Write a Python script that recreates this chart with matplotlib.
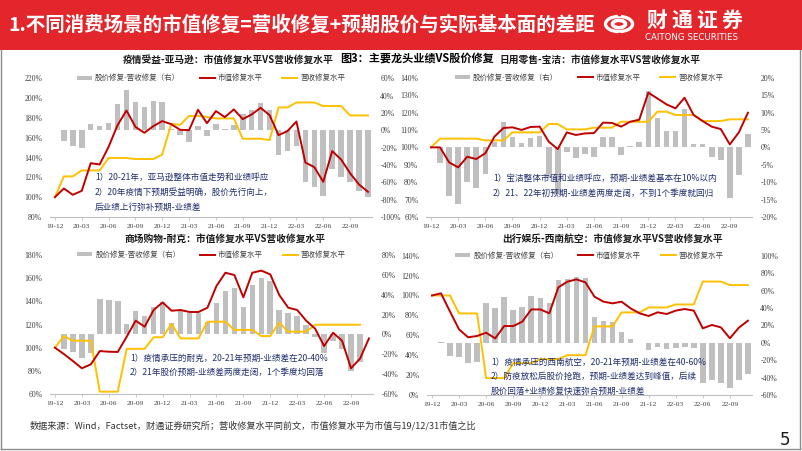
import numpy as np
import matplotlib
matplotlib.use("Agg")
import matplotlib.pyplot as plt
from matplotlib.patches import Patch, Rectangle, Circle, Arc
from matplotlib.lines import Line2D

plt.rcParams['font.family'] = ['Noto Sans CJK SC', 'DejaVu Sans']

W, H = 802, 451
nan = np.nan

# ---------------- data ----------------
x_labels = ["19-12", "20-03", "20-06", "20-09", "20-12", "21-03", "21-06",
            "21-09", "21-12", "22-03", "22-06", "22-09"]

amazon_mv = [100, 108.8, 102.4, 106.4, 134.3, 133, 150.8, 172.7, 187.5, 171, 165, 171.7,
             176.8, 173.7, 168, 167.7, 188.2, 174.7, 186.9, 180.8, 188.6, 178.8, 183.5, 190.2,
             182.8, 162.6, 166.7, 176.4, 135, 130.3, 115.5, 146.5, 138, 124.2, 112.8, 105.4]
amazon_rev = [100, 121, 121, 127, 127, 127, 139.6, 139.6, 139.6, 138.5, 138.5, 138.5,
              143, 174, 173, 182, 182, 181, 179.5, 179.5, 179.5, 159, 159, 159,
              157.6, 190.6, 190.6, 195.6, 195.6, 195.6, 192, 192, 192, 182.5, 182.5, 182.5]
amazon_gap = [nan, -11.9, -18.4, -20.7, 7.3, 5.4, 8.4, 30.2, 46.3, 32.2, 26.4, 34.1,
              32.2, 1, -5, -14, 5, -7, 7, 1.5, 6.5, 19, 24, 31,
              23, -28, -24, -18, -60, -65, -76, -45, -54, -60, -70, -77]

pg_mv = [100, 100, 91.4, 88.5, 94.6, 93.3, 96.6, 106.1, 111.1, 111.5, 110, 111.7,
         111.9, 103.3, 99, 108.6, 107.1, 108, 108.2, 114.2, 114, 111.9, 114.7, 115.9,
         131.4, 128.1, 124.7, 122.4, 128.5, 118.6, 115.1, 111.9, 110.5, 101.7, 108.6, 119.9]
pg_rev = [100, 105, 105, 105, 105, 105, 104, 104, 104, 108.6, 108.6, 108.6,
          108.6, 113.4, 113.4, 110.3, 110.3, 110.3, 111.3, 111.3, 111.3, 114.7, 114.7, 114.7,
          114.7, 120.5, 120.5, 118.6, 118.6, 118.6, 115.1, 115.1, 115.1, 116.1, 116.1, 116.1]
pg_gap = [nan, -4.6, -13.9, -16.3, -10, -11.6, -7.6, 1.4, 7.2, 2.9, 1.3, 2.8,
          3.3, -8.9, -13.5, -1.4, -3.2, -2, -2.7, 3.1, 3.1, -2.2, 0.3, 1.6,
          16.2, 8.5, 4.8, 4.8, 11, 0.9, 1.1, -2.8, -3.5, -14.5, -7.8, 3.7]

nike_mv = [100, 94.5, 88.5, 82.2, 85.6, 97.1, 96.5, 96.3, 109.5, 123.3, 118.1, 132.5,
           139.1, 131.9, 132.5, 130.8, 130.8, 134.5, 153.2, 164.7, 162.7, 143.5, 164.7, 166.5,
           163.3, 145.5, 134.5, 132.5, 123.3, 116.4, 101.4, 112.9, 106, 82.2, 90.5, 108]
nike_rev = [100, 110, 106, 106, 106, 62, 62, 62, 99, 99, 99, 109,
            109, 120.4, 108, 108, 108, 122.4, 122.4, 122.4, 115.3, 115.3, 115.3, 110,
            110, 121.6, 113.8, 113.8, 113.8, 119.8, 119.8, 119.8, 119.8, 119.8, 119.8, nan]
nike_gap = [nan, -15.1, -17.4, -24.2, -19.1, 35.2, 34.6, 33.9, 10.4, 23.8, 18.5, 27.9,
            32.2, 11.7, 23.8, 21.8, 21.8, 12.8, 31.2, 43.6, 46.3, 27.9, 49.7, 56.4,
            53.7, 24.5, 21.1, 18.8, 9.4, -3, -19.1, -6.4, -14.4, -36.6, -27.5, nan]

sw_mv = [100, 102.2, 83.8, 66, 58, 59.3, 62.6, 56.9, 69.3, 69.3, 73.7, 86,
         86, 82.1, 108.2, 113.9, 116.2, 113.2, 98.8, 93.8, 92.1, 93.8, 87.1, 82.1,
         79.4, 83.1, 81.4, 84.8, 86.4, 84.8, 67, 70.4, 68, 57, 67.7, 74.7]
sw_rev = [100, 100, 100, 82, 82, 82, 17, 17, 17, 32, 32, 32,
          36, 36, 36, 40, 40, 40, 69, 69, 69, 83, 83, 83,
          88, 88, 88, 91, 91, 91, 114, 114, 114, 110.5, 110.5, 110.5]
sw_gap = [nan, 1, -15.3, -16, -23.7, -22.6, 45.9, 39.4, 52, 37.5, 41.3, 53.6,
          50.9, 45.2, 72, 72.7, 75.8, 73.9, 29.9, 25.3, 24.1, 11.9, 4.2, -0.5,
          -8.4, -5.4, -7.3, -6.5, -4.6, -5.7, -46.7, -42.9, -45.9, -52.4, -42.9, -36]

legend_labels = ["股价修复-营收修复（右）", "市值修复水平", "营收修复水平"]

titles = ["疫情受益-亚马逊：市值修复水平VS营收修复水平",
          "日用零售-宝洁：市值修复水平VS营收修复水平",
          "商场购物-耐克：市值修复水平VS营收修复水平",
          "出行娱乐-西南航空：市值修复水平VS营收修复水平"]

notes = [["1）20-21年，亚马逊整体市值走势和业绩呼应",
          "2）20年疫情下预期受益明确，股价先行向上，",
          "后业绩上行弥补预期-业绩差"],
         ["1）宝洁整体市值和业绩呼应，预期-业绩差基本在10%以内",
          "2）21、22年初预期-业绩差两度走阔，不到1个季度就回归"],
         ["1）疫情承压的耐克，20-21年预期-业绩差在20-40%",
          "2）21年股价预期-业绩差两度走阔，1个季度均回落"],
         ["1）疫情承压的西南航空，20-21年预期-业绩差在40-60%",
          "2）防疫放松后股价抢跑，预期-业绩差达到峰值，后续",
          "股价回落+业绩修复快速弥合预期-业绩差"]]

header_title = "1.不同消费场景的市值修复=营收修复+预期股价与实际基本面的差距"
caption = "图3：主要龙头业绩VS股价修复"
footer = "数据来源：Wind，Factset，财通证券研究所；营收修复水平同前文，市值修复水平为市值与19/12/31市值之比"
brand_cn = "财通证券"
brand_en = "CAITONG SECURITIES"

# ---------------- styling ----------------
RED = "#C00000"
YEL = "#FFC000"
GRAY = "#BFBFBF"
NAVY = "#1F2E6E"
SERIF = "Liberation Serif"

fig = plt.figure(figsize=(W / 100, H / 100), dpi=100)
fig.patch.set_facecolor("white")


def fx(x):
    return x / W


def fy(y):
    return 1 - y / H


# header
fig.patches.append(Rectangle((0, fy(50)), 1, 50 / H, transform=fig.transFigure,
                             facecolor="#E3262B", edgecolor="none", zorder=0))
fig.text(fx(8), fy(25), header_title, color="white", fontsize=14, fontweight="bold",
         ha="left", va="center")
# logo icon (simplified)
fig.patches.append(Circle((fx(619), fy(24)), 13.5 / W, transform=fig.transFigure,
                          facecolor="none", edgecolor="white", lw=2.4))
fig.patches.append(Circle((fx(619), fy(24)), 6.5 / W, transform=fig.transFigure,
                          facecolor="none", edgecolor="white", lw=2.6))
fig.lines.append(Line2D([fx(619), fx(619)], [fy(9), fy(14)], transform=fig.transFigure,
                        color="#E3262B", lw=2.5))
fig.lines.append(Line2D([fx(619), fx(619)], [fy(34), fy(39)], transform=fig.transFigure,
                        color="#E3262B", lw=2.5))
for k, ch in enumerate(brand_cn):
    fig.text(fx(657 + k * 25), fy(20), ch, color="white", fontsize=15, fontweight="bold",
             ha="center", va="center")
fig.text(fx(645), fy(38), brand_en, color="white", fontsize=6.2,
         ha="left", va="center", family="DejaVu Sans")

# body border
for (x0, y0, x1, y1) in [(1, 50, 1, 449), (800, 50, 800, 449), (1, 449, 800, 449)]:
    fig.lines.append(Line2D([fx(x0), fx(x1)], [fy(y0), fy(y1)], transform=fig.transFigure,
                            color="#8C8C8C", lw=1.0))

fig.text(fx(417), fy(58), caption, fontsize=8, fontweight="bold", ha="center", va="center")

panels = [
    dict(box=(50, 372, 78.3, 217), data=(amazon_mv, amazon_rev, amazon_gap),
         ll=(80, 220, 20), rl=(-100, 60, 20), title_xy=(228, 60), note_xy=(95, 177, 15)),
    dict(box=(426, 752, 77.7, 217), data=(pg_mv, pg_rev, pg_gap),
         ll=(60, 140, 10), rl=(-20, 20, 5), title_xy=(600, 60), note_xy=(493, 178, 15)),
    dict(box=(50, 373, 255, 394), data=(nike_mv, nike_rev, nike_gap),
         ll=(60, 180, 20), rl=(-60, 80, 20), title_xy=(225, 239), note_xy=(130, 358, 14.5)),
    dict(box=(427, 752, 255.7, 395), data=(sw_mv, sw_rev, sw_gap),
         ll=(0, 140, 20), rl=(-60, 100, 20), title_xy=(612, 239), note_xy=(491, 362, 14.7)),
]

n = len(amazon_mv)
xs = np.arange(n)

for i, p in enumerate(panels):
    L, R, T, B = p["box"]
    ax = fig.add_axes([fx(L), fy(B), (R - L) / W, (B - T) / H])
    ax2 = ax.twinx()
    mv, rev, gap = p["data"]
    ax2.bar(xs, gap, width=0.62, color=GRAY, zorder=1)
    ax.plot(xs, rev, color=YEL, lw=1.4, zorder=3)
    ax.plot(xs, mv, color=RED, lw=1.4, zorder=4)
    ax.set_zorder(ax2.get_zorder() + 1)
    ax.patch.set_visible(False)

    lo, hi, st = p["ll"]
    ax.set_ylim(lo, hi)
    lt = np.arange(lo, hi + 0.1, st)
    ax.set_yticks(lt)
    ax.set_yticklabels([f"{int(v)}%" for v in lt])
    lo2, hi2, st2 = p["rl"]
    ax2.set_ylim(lo2, hi2)
    rt = np.arange(lo2, hi2 + 0.1, st2)
    ax2.set_yticks(rt)
    ax2.set_yticklabels([f"{int(v)}%" for v in rt])
    ax.set_xlim(-0.55, 35.45)
    ax.set_xticks(np.arange(0, 34, 3))
    ax.set_xticklabels(x_labels)

    for a in (ax, ax2):
        for s in ("top", "left", "right"):
            a.spines[s].set_visible(False)
        a.spines["bottom"].set_color("#BFBFBF")
        a.spines["bottom"].set_linewidth(0.8)
    ax2.spines["bottom"].set_visible(False)
    ax.tick_params(axis="y", length=0, pad=5.5, labelsize=5.6, labelcolor="#404040")
    ax2.tick_params(axis="y", length=0, pad=6, labelsize=5.6, labelcolor="#404040")
    ax.tick_params(axis="x", length=2, width=0.6, color="#BFBFBF", pad=3,
                   labelsize=5.4, labelcolor="#404040")
    for lab in ax.get_xticklabels() + ax.get_yticklabels() + ax2.get_yticklabels():
        lab.set_fontfamily(SERIF)

    handles = [Patch(facecolor=GRAY, edgecolor="none"),
               Line2D([0], [0], color=RED, lw=1.4),
               Line2D([0], [0], color=YEL, lw=1.4)]
    leg = ax.legend(handles, legend_labels, ncol=3, loc="center",
                    bbox_to_anchor=(0.5, 1.0), frameon=False, fontsize=5.4,
                    handlelength=2.0, handleheight=0.5, columnspacing=2.6,
                    handletextpad=0.4, borderaxespad=0)
    for t in leg.get_texts():
        t.set_color("#404040")

    tx, ty = p["title_xy"]
    fig.text(fx(tx), fy(ty), titles[i], fontsize=7, fontweight="bold",
             ha="center", va="center", color="#1a1a1a")
    nx, ny, dy = p["note_xy"]
    for k, line in enumerate(notes[i]):
        fig.text(fx(nx), fy(ny + k * dy), line, fontsize=6.2, color=NAVY,
                 ha="left", va="center")

fig.text(fx(30), fy(426), footer, fontsize=6.6, color="#333333", ha="left", va="center")
fig.text(fx(790), fy(440), "5", fontsize=12, color="#1a1a1a", ha="right", va="center",
         family="DejaVu Sans")

fig.savefig("out.png", dpi=100)
